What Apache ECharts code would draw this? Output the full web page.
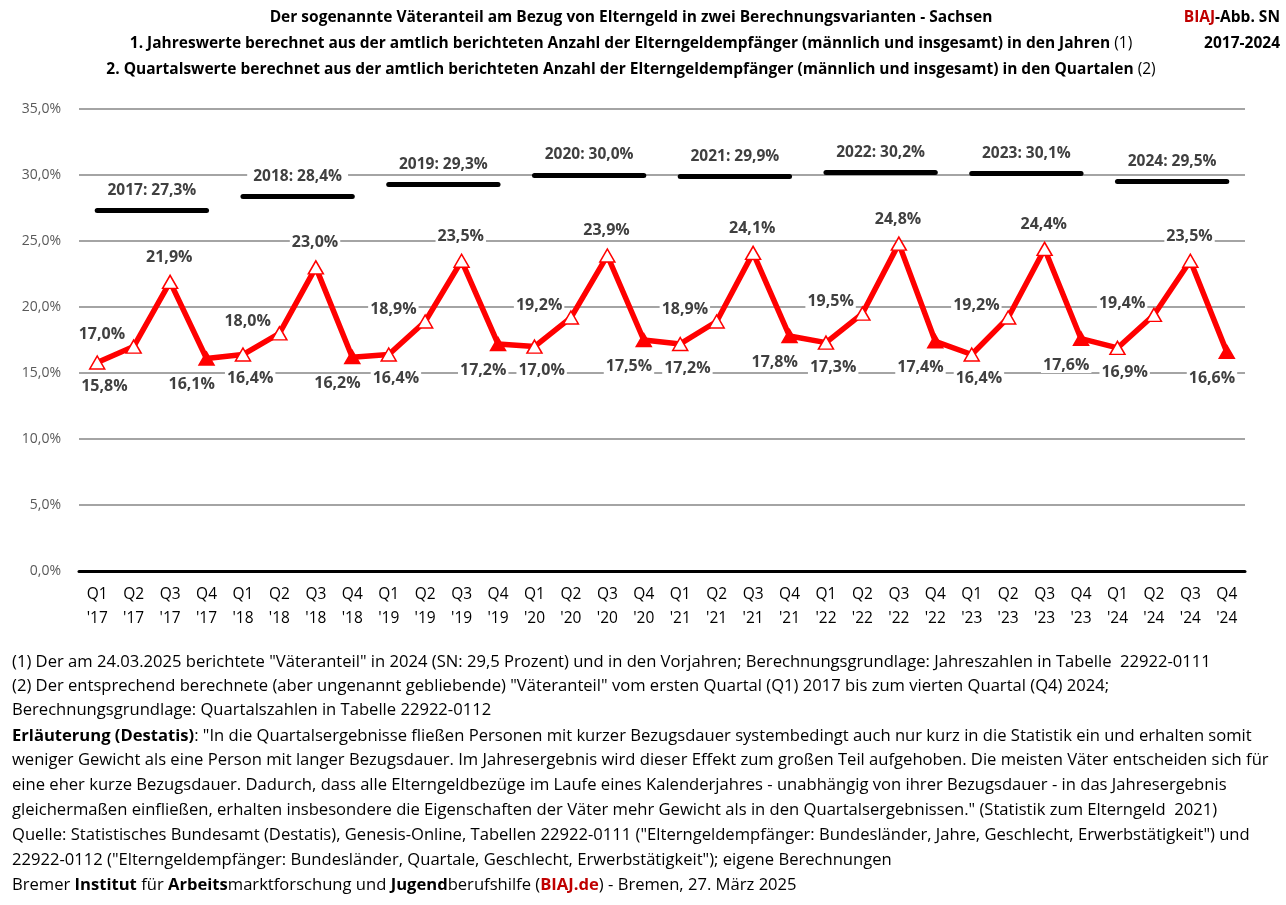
<!DOCTYPE html>
<html>
<head>
<meta charset="utf-8">
<script src="https://cdn.jsdelivr.net/npm/echarts@6/dist/echarts.min.js"></script>
<style>
html,body{margin:0;padding:0;background:#fff;}
#chart{width:1286px;height:905px;}
</style>
</head>
<body>
<div id="chart"></div>
<script>
// ---- data ----
const categories = [
  "Q1\n'17","Q2\n'17","Q3\n'17","Q4\n'17",
  "Q1\n'18","Q2\n'18","Q3\n'18","Q4\n'18",
  "Q1\n'19","Q2\n'19","Q3\n'19","Q4\n'19",
  "Q1\n'20","Q2\n'20","Q3\n'20","Q4\n'20",
  "Q1\n'21","Q2\n'21","Q3\n'21","Q4\n'21",
  "Q1\n'22","Q2\n'22","Q3\n'22","Q4\n'22",
  "Q1\n'23","Q2\n'23","Q3\n'23","Q4\n'23",
  "Q1\n'24","Q2\n'24","Q3\n'24","Q4\n'24"
];
const quarterly = [
  15.8,17.0,21.9,16.1,
  16.4,18.0,23.0,16.2,
  16.4,18.9,23.5,17.2,
  17.0,19.2,23.9,17.5,
  17.2,18.9,24.1,17.8,
  17.3,19.5,24.8,17.4,
  16.4,19.2,24.4,17.6,
  16.9,19.4,23.5,16.6
];
const years = [2017,2018,2019,2020,2021,2022,2023,2024];
const yearly = [27.3,28.4,29.3,30.0,29.9,30.2,30.1,29.5];
const yTicks = [0,5,10,15,20,25,30,35];

// ---- helpers ----
const fmt = v => v.toFixed(1).replace('.', ',') + '%';
const FONT = '"Open Sans", Lato, sans-serif';
const SYM_W = 15, SYM_H = 13;
const labelOffsets = [[8,25],[-31,-11],[0,-24],[-14,27]]; // by quarter

const quarterData = quarterly.map((v,i) => {
  const q = i % 4;
  const o = labelOffsets[q];
  return {
    value: v,
    symbol: 'triangle',
    itemStyle: q === 3
      ? {color:'#ff0000', borderColor:'#ff0000', borderWidth:1.5}
      : {color:'#ffffff', borderColor:'#ff0000', borderWidth:1.5},
    label: {position: [SYM_W/2 + o[0], SYM_H/2 + o[1]]}
  };
});

const yearLines = years.map((y,k) => {
  const v = yearly[k];
  return [
    {coord:[categories[k*4], v], name: y + ': ' + fmt(v)},
    {coord:[categories[k*4+3], v]}
  ];
});

const chart = echarts.init(document.getElementById('chart'), null, {renderer:'canvas'});

const footerLines = [
  [['n','(1) Der am 24.03.2025 berichtete "Väteranteil" in 2024 (SN: 29,5 Prozent) und in den Vorjahren; Berechnungsgrundlage: Jahreszahlen in Tabelle  22922-0111']],
  [['n','(2) Der entsprechend berechnete (aber ungenannt gebliebende) "Väteranteil" vom ersten Quartal (Q1) 2017 bis zum vierten Quartal (Q4) 2024;']],
  [['n','Berechnungsgrundlage: Quartalszahlen in Tabelle 22922-0112']],
  [['b','Erläuterung (Destatis)'],['n',': "In die Quartalsergebnisse fließen Personen mit kurzer Bezugsdauer systembedingt auch nur kurz in die Statistik ein und erhalten somit']],
  [['n','weniger Gewicht als eine Person mit langer Bezugsdauer. Im Jahresergebnis wird dieser Effekt zum großen Teil aufgehoben. Die meisten Väter entscheiden sich für']],
  [['n','eine eher kurze Bezugsdauer. Dadurch, dass alle Elterngeldbezüge im Laufe eines Kalenderjahres - unabhängig von ihrer Bezugsdauer - in das Jahresergebnis']],
  [['n','gleichermaßen einfließen, erhalten insbesondere die Eigenschaften der Väter mehr Gewicht als in den Quartalsergebnissen." (Statistik zum Elterngeld  2021)']],
  [['n','Quelle: Statistisches Bundesamt (Destatis), Genesis-Online, Tabellen 22922-0111 ("Elterngeldempfänger: Bundesländer, Jahre, Geschlecht, Erwerbstätigkeit") und']],
  [['n','22922-0112 ("Elterngeldempfänger: Bundesländer, Quartale, Geschlecht, Erwerbstätigkeit"); eigene Berechnungen']],
  [['n','Bremer '],['b','Institut'],['n',' für '],['b','Arbeits'],['n','marktforschung und '],['b','Jugend'],['n','berufshilfe ('],['r','BIAJ.de'],['n',') - Bremen, 27. März 2025']]
];
const FS = 16.6;
const richFooter = {
  n:{fontFamily:FONT, fontSize:FS, fill:'#000'},
  b:{fontFamily:FONT, fontSize:FS, fontWeight:'bold', fill:'#000'},
  r:{fontFamily:FONT, fontSize:FS, fontWeight:'bold', fill:'#c00000'}
};
const toRich = parts => parts.map(p => '{' + p[0] + '|' + p[1] + '}').join('');
const footerY = [662,686,710,736,760,785,810,835,860,885];

const graphics = [];
footerLines.forEach((parts,i) => {
  graphics.push({type:'text', x:12, y:footerY[i], silent:true,
    style:{text: toRich(parts), rich: richFooter, verticalAlign:'middle'}});
});

const TS = 15.5;
const richTitle = {
  b:{fontFamily:FONT, fontSize:TS, fontWeight:'bold', fill:'#000'},
  n:{fontFamily:FONT, fontSize:TS, fill:'#000'},
  r:{fontFamily:FONT, fontSize:TS, fontWeight:'bold', fill:'#c00000'}
};
const titleLines = [
  [['b','Der sogenannte Väteranteil am Bezug von Elterngeld in zwei Berechnungsvarianten - Sachsen']],
  [['b','1. Jahreswerte berechnet aus der amtlich berichteten Anzahl der Elterngeldempfänger (männlich und insgesamt) in den Jahren '],['n','(1)']],
  [['b','2. Quartalswerte berechnet aus der amtlich berichteten Anzahl der Elterngeldempfänger (männlich und insgesamt) in den Quartalen '],['n','(2)']]
];
const titleY = [18,44,70];
titleLines.forEach((parts,i) => {
  graphics.push({type:'text', x:631, y:titleY[i], silent:true,
    style:{text: toRich(parts), rich: richTitle, align:'center', verticalAlign:'middle'}});
});
graphics.push({type:'text', x:1280, y:18, silent:true,
  style:{text: '{r|BIAJ}{b|-Abb. SN}', rich: richTitle, align:'right', verticalAlign:'middle'}});
graphics.push({type:'text', x:1280, y:44, silent:true,
  style:{text: '{b|2017-2024}', rich: richTitle, align:'right', verticalAlign:'middle'}});

chart.setOption({
  animation:false,
  backgroundColor:'#fff',
  textStyle:{fontFamily:FONT},
  grid:{left:79, right:41, top:109, bottom:334, containLabel:false},
  xAxis:{
    type:'category',
    data:categories,
    boundaryGap:true,
    axisLine:{lineStyle:{color:'#000', width:3}},
    axisTick:{inside:true, length:5, lineStyle:{color:'#000', width:2}},
    axisLabel:{color:'#000', fontSize:15.5, fontFamily:FONT, lineHeight:24, margin:12, interval:0},
    splitLine:{show:false}
  },
  yAxis:{
    type:'value',
    min:yTicks[0], max:yTicks[yTicks.length-1], interval:5,
    axisLine:{show:false},
    axisTick:{show:false},
    axisLabel:{color:'#595959', fontSize:14, fontFamily:FONT, margin:18, formatter: v => fmt(v)},
    splitLine:{lineStyle:{color:'#868686', width:1.5}}
  },
  graphic: graphics,
  series:[
    {
      name:'Jahreswerte',
      type:'line',
      data:[],
      silent:true,
      z:3,
      markLine:{
        silent:true,
        symbol:['none','none'],
        animation:false,
        lineStyle:{color:'#000', width:5, type:'solid', cap:'round'},
        label:{
          show:true, position:'insideMiddleTop', distance:11,
          formatter: p => p.name,
          color:'#404040', fontSize:15.5, fontWeight:'bold', fontFamily:FONT,
          backgroundColor:'#fff', padding:[1,6]
        },
        emphasis:{disabled:true},
        data: yearLines
      }
    },
    {
      name:'Quartalswerte',
      type:'line',
      data:quarterData,
      z:4,
      showSymbol:true,
      showAllSymbol:true,
      symbolSize:[SYM_W,SYM_H],
      lineStyle:{color:'#ff0000', width:5.5},
      itemStyle:{color:'#ff0000'},
      label:{
        show:true,
        align:'center', verticalAlign:'middle',
        formatter: p => fmt(p.value),
        color:'#404040', fontSize:16, fontWeight:'bold', fontFamily:FONT,
        backgroundColor:'#fff', padding:[0,2]
      },
      labelLayout:{hideOverlap:false},
      emphasis:{disabled:true}
    }
  ]
});
</script>
</body>
</html>
